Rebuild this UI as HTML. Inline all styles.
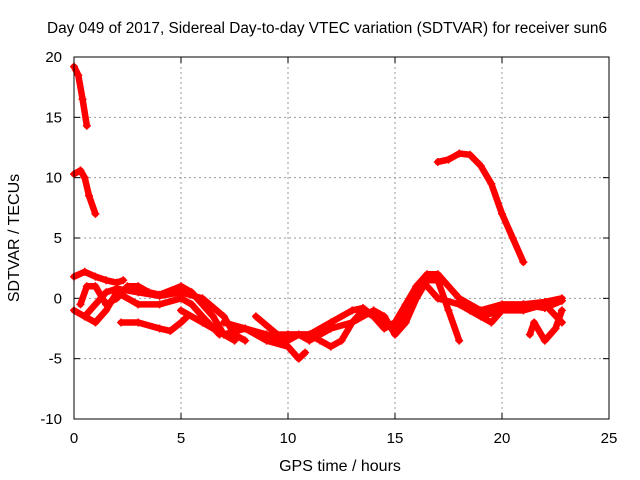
<!DOCTYPE html>
<html><head><meta charset="utf-8"><style>
body{margin:0;background:#fff;}
svg{display:block;font-family:"Liberation Sans",Arial,sans-serif;}
</style></head><body>
<svg id="chart" width="640" height="480" viewBox="0 0 640 480">
<rect width="640" height="480" fill="#fff"/>
<text x="327" y="33" font-size="15.4" text-anchor="middle">Day 049 of 2017, Sidereal Day-to-day VTEC variation (SDTVAR) for receiver sun6</text>
<text x="340" y="471" font-size="16" text-anchor="middle">GPS time / hours</text>
<text transform="translate(19,238) rotate(-90)" font-size="16" text-anchor="middle">SDTVAR / TECUs</text>
<g id="grid"></g>
<g id="ticks"></g>
<g id="series"></g>
<rect x="74" y="57" width="535" height="362" fill="none" stroke="#000" stroke-width="1"/>
</svg>
<script>
const xTicks=[0,5,10,15,20,25];
const yTicks=[-10,-5,0,5,10,15,20];
const trackA=[[0,19.2],[0.2,18.5],[0.4,16.5],[0.6,14.3]];
const trackB=[[0,10.3],[0.3,10.6],[0.5,10],[0.7,8.5],[1.0,7.0]];
const trackC=[[17,11.3],[17.5,11.5],[18,12],[18.5,11.9],[19,11],[19.5,9.5],[20,7],[20.5,5],[21,3]];
const trackD=[[0,1.8],[0.5,2.2],[1,1.8],[1.5,1.5],[2,1.3],[2.3,1.5]];
const trackE=[[0,-1],[0.5,-1.5],[1,-0.5],[1.5,0.5],[2,0.8],[3,0.5],[4,0.2],[5,0.5],[6,0],[7,-1.5],[7.5,-3],[8,-3.5]];
const trackF=[[0.3,-0.5],[0.6,1],[1,1],[1.5,-0.5],[2,0],[2.5,1],[3,1],[3.5,0.5],[4,0.3],[5,1],[5.5,0.5],[6.5,-1.5],[7,-3],[7.5,-3.5]];
const trackG=[[0.5,-1.5],[1,-2],[1.5,-1],[2,0.5],[3,-0.5],[4,-0.5],[5,0],[5.5,-0.5],[6,-1.5],[6.8,-3]];
const trackH=[[2.2,-2],[3,-2],[4,-2.5],[4.5,-2.7],[5,-2],[5.3,-1.5]];
const trackI=[[5,-1],[6,-2],[7,-3],[8,-2.5],[9,-3.5],[10,-4],[10.5,-5],[10.8,-4.5]];
const trackJ=[[7,-2],[8,-2.5],[9,-3],[10,-3.5],[10.5,-3],[11,-3.5],[12,-2.5],[13,-2],[14,-1],[14.5,-1.5],[15,-3],[15.5,-2],[16,0],[16.5,1.5],[17,1.5],[17.5,-1],[18,-3.5]];
const trackK=[[8.5,-1.5],[9.5,-3],[10,-3],[11,-3],[11.5,-3.5],[12,-4],[12.5,-3.5],[13,-2],[13.5,-1],[14,-1.5],[15,-2.5],[15.5,-1.5],[16,1],[16.5,2],[17,2],[17.5,1],[18,0],[19,-1],[20,-0.5],[21,-0.5],[22,-0.3],[22.8,0]];
const trackL=[[10,-3],[11,-3],[12,-2],[13,-1],[13.5,-0.8],[14,-1.5],[14.5,-2.5],[15,-2],[15.5,-0.5],[16,1],[16.5,1],[17,0],[18,-0.5],[19,-1.5],[20,-1],[21,-0.5],[22,-0.8],[22.8,-0.2]];
const trackM=[[18.5,-1],[19.5,-2],[20,-1],[21,-1],[22,-0.5],[22.8,-2]];
const trackN=[[21.3,-3],[21.5,-2],[22,-3.5],[22.5,-2.5],[22.8,-1]];
const tracks=[trackA,trackB,trackC,trackD,trackE,trackF,trackG,trackH,trackI,trackJ,trackK,trackL,trackM,trackN];
const X0=74,X1=609,Y0=419,Y1=57;
const sx=v=>X0+(v-0)/(25-0)*(X1-X0);
const sy=v=>Y0-(v+10)/(30)*(Y0-Y1);
const NS="http://www.w3.org/2000/svg";
const grid=document.getElementById('grid'),ticks=document.getElementById('ticks'),ser=document.getElementById('series');
function mk(t,a,p){const e=document.createElementNS(NS,t);for(const k in a)e.setAttribute(k,a[k]);p.appendChild(e);return e;}
xTicks.forEach(v=>{const x=sx(v);
 if(v>0&&v<25){const g=mk('line',{x1:x,x2:x,y1:Y1,y2:Y0,stroke:'#999','stroke-dasharray':'2,3'},grid);
 
 }
 mk('line',{x1:x,x2:x,y1:Y0,y2:Y0-6,stroke:'#000'},ticks);mk('line',{x1:x,x2:x,y1:Y1,y2:Y1+6,stroke:'#000'},ticks);
 const t=mk('text',{x:x,y:Y0+24,'font-size':15,'text-anchor':'middle'},ticks);t.textContent=v;
 
 
});
yTicks.forEach(v=>{const y=sy(v);
 if(v>-10&&v<20){const g=mk('line',{x1:X0,x2:X1,y1:y,y2:y,stroke:'#999','stroke-dasharray':'2,3'},grid);
 
 }
 mk('line',{x1:X0,x2:X0+6,y1:y,y2:y,stroke:'#000'},ticks);mk('line',{x1:X1,x2:X1-6,y1:y,y2:y,stroke:'#000'},ticks);
 const t=mk('text',{x:X0-12,y:y+5,'font-size':15,'text-anchor':'end'},ticks);t.textContent=v;
 
 
});
tracks.forEach(tr=>{
 const pl=mk('polyline',{points:tr.map(p=>sx(p[0])+','+sy(p[1])).join(' '),fill:'none',stroke:'#f00','stroke-width':6.5,'stroke-linejoin':'round','stroke-linecap':'round'},ser);
 
 
 tr.forEach(p=>{const x=sx(p[0]),y=sy(p[1]);
  const m=mk('path',{d:`M${x-4},${y}H${x+4}M${x},${y-4}V${y+4}`,stroke:'#f00','stroke-width':1.5},ser);
  
  
 });
});
</script>
</body></html>
